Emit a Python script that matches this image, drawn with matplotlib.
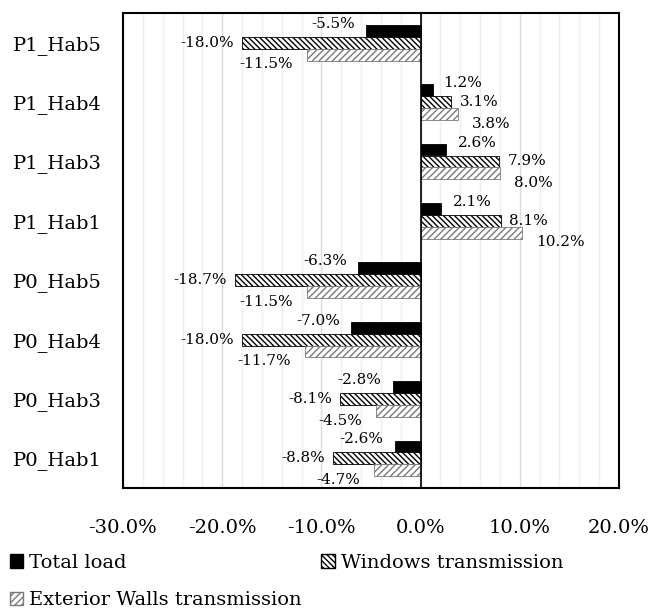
import matplotlib.pyplot as plt
from matplotlib.patches import Patch
import numpy as np

plt.rcParams['font.family'] = ['DejaVu Serif']
plt.rcParams['hatch.linewidth'] = 1.0

categories = ["P0_Hab1", "P0_Hab3", "P0_Hab4", "P0_Hab5",
              "P1_Hab1", "P1_Hab3", "P1_Hab4", "P1_Hab5"]
total_load = [-2.6, -2.8, -7.0, -6.3, 2.1, 2.6, 1.2, -5.5]
windows = [-8.8, -8.1, -18.0, -18.7, 8.1, 7.9, 3.1, -18.0]
walls = [-4.7, -4.5, -11.7, -11.5, 10.2, 8.0, 3.8, -11.5]
xticks = [-30, -20, -10, 0, 10, 20]

win_hatch = '\\\\\\\\\\\\'
wall_hatch = '/////'

fig = plt.figure(figsize=(6.52, 6.09), dpi=100)
ax = fig.add_axes([123/652, 1-488/609, 496/652, 475/609])

y = np.arange(len(categories))
h = 0.2

b1 = ax.barh(y + h, total_load, height=h, color='black', edgecolor='black', linewidth=0.6)
b2 = ax.barh(y, windows, height=h, color='white', edgecolor='black', hatch=win_hatch, linewidth=0.6)
b3 = ax.barh(y - h, walls, height=h, color='white', edgecolor='#7a7a7a', hatch=wall_hatch, linewidth=0.6)

# data labels (offset in points: x away from bar end, y shift)
for bars, vals, dy, dx in [(b1, total_load, 5, 8), (b2, windows, 0, 6), (b3, walls, -7, 10)]:
    for bar, v in zip(bars, vals):
        yc = bar.get_y() + bar.get_height()/2
        sign = 1 if v >= 0 else -1
        ax.annotate(f"{v:.1f}%", (v, yc), xytext=(sign*dx, dy), textcoords='offset points',
                    ha='left' if v >= 0 else 'right', va='center', fontsize=11)

ax.set_xlim(-30, 20)
ax.set_ylim(-0.5, len(categories) - 0.5)
ax.set_xticks(xticks)
ax.set_xticklabels([f"{t:.1f}%" for t in xticks])
ax.set_xticks(np.arange(-30, 21, 2), minor=True)
ax.set_yticks(y)
ax.set_yticklabels(categories)
ax.tick_params(axis='both', length=0, labelsize=14)
ax.tick_params(axis='x', pad=22)
ax.tick_params(axis='y', pad=15)
ax.tick_params(which='minor', length=0)
ax.grid(axis='x', which='minor', color='#efefef', linewidth=1)
ax.grid(axis='x', which='major', color='#dcdcdc', linewidth=1)
ax.set_axisbelow(True)
ax.axvline(0, color='black', linewidth=1.2)
for s in ax.spines.values():
    s.set_linewidth(1.5)

h_total = Patch(facecolor='black', edgecolor='black')
h_win = Patch(facecolor='white', edgecolor='black', hatch=win_hatch)
h_wall = Patch(facecolor='white', edgecolor='#7a7a7a', hatch=wall_hatch)
# column-major fill: row 1 = Total, Windows; row 2 = Exterior Walls
fig.legend([h_total, h_wall, h_win],
           ["Total load", "Exterior Walls transmission", "Windows transmission"],
           loc='upper left', bbox_to_anchor=(0.015, 1-554/609), ncol=2,
           frameon=False, fontsize=14, handlelength=0.7, handleheight=0.7, handletextpad=0.3,
           columnspacing=1.0, borderaxespad=0, borderpad=0, labelspacing=1.0)

fig.savefig("out.png", dpi=100)
